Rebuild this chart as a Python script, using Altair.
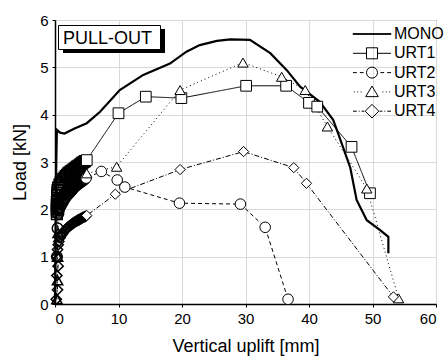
import altair as alt
import pandas as pd

# ---- data ----
mono_x = [0, 0.2, 0.3, 0.8, 1.5, 3.0, 5.0, 7.1, 10.2, 13.9, 18.1, 20.7, 22.8, 25.5, 27.6,
          30.7, 33.9, 36.5, 38.6, 41.7, 43.8, 44.6, 46.5, 47.5, 49.1, 51.2, 52.5, 52.5]
mono_y = [0, 3.0, 3.68, 3.62, 3.6, 3.7, 3.82, 4.06, 4.52, 4.84, 5.08, 5.33, 5.47, 5.56, 5.59,
          5.58, 5.3, 4.94, 4.59, 4.27, 3.89, 3.6, 2.88, 2.2, 1.77, 1.56, 1.42, 1.07]

urt1_x = [0.3, 0.3, 0.3, 0.3, 0.3, 0.3, 0.4, 0.4, 0.4, 0.4, 0.4, 0.5,
          0.7, 0.9, 1.1, 1.3, 1.5, 1.7, 1.9, 2.1, 2.3, 2.5, 2.7, 2.9, 3.1, 3.3, 3.5,
          3.7, 3.9, 4.1, 4.3, 4.5, 4.7, 5.0,
          10.0, 14.3, 19.9, 30.1, 36.4, 40.0, 41.3, 46.7, 49.6]
urt1_y = [1.9, 1.95, 2.0, 2.05, 2.1, 2.15, 2.2, 2.25, 2.3, 2.35, 2.4, 2.46,
          2.52, 2.57, 2.61, 2.64, 2.67, 2.7, 2.73, 2.76, 2.78, 2.8, 2.82, 2.84, 2.86, 2.88, 2.9,
          2.92, 2.94, 2.96, 2.98, 3.0, 3.02, 3.04,
          4.03, 4.38, 4.35, 4.61, 4.61, 4.25, 4.17, 3.32, 2.34]

urt2_x = [0.3, 0.4, 0.5, 0.6, 0.8, 1.0, 1.2, 1.4, 1.6, 1.8, 2.0, 2.2, 2.4, 2.6, 2.8, 3.0,
          3.2, 3.4, 3.6, 3.8, 4.0, 4.2, 4.4, 4.6, 4.9,
          7.3, 9.8, 11.0, 19.6, 29.2, 33.1, 36.7]
urt2_y = [1.0, 1.6, 1.9, 1.98, 2.05, 2.1, 2.15, 2.2, 2.24, 2.28, 2.31, 2.34, 2.37, 2.4, 2.43, 2.46,
          2.49, 2.51, 2.53, 2.55, 2.57, 2.59, 2.61, 2.63, 2.66,
          2.8, 2.62, 2.47, 2.13, 2.11, 1.62, 0.1]

urt3_x = [0.3, 0.4, 0.4, 0.5, 0.5, 0.6, 0.7, 0.9, 1.1, 1.3, 1.5, 1.7, 1.9, 2.1, 2.3, 2.5,
          2.7, 2.9, 3.1, 3.3, 3.5, 3.7, 3.9, 4.1, 4.3, 4.5, 4.7, 5.0,
          9.7, 19.7, 29.6, 35.7, 39.4, 42.9, 49.1, 54.1]
urt3_y = [0.1, 0.5, 1.0, 1.5, 2.0, 2.15, 2.22, 2.3, 2.35, 2.39, 2.42, 2.45, 2.48, 2.5, 2.52, 2.55,
          2.57, 2.6, 2.62, 2.64, 2.66, 2.68, 2.69, 2.7, 2.72, 2.73, 2.74, 2.76,
          2.9, 4.52, 5.1, 4.8, 4.52, 3.75, 2.44, 0.12]

urt4_x = [0.2, 0.4, 0.3, 0.5, 0.3, 0.4, 0.5, 0.6, 0.8, 1.0, 1.2, 1.4, 1.6, 1.8, 2.0, 2.2,
          2.4, 2.6, 2.8, 3.0, 3.2, 3.4, 3.6, 3.8, 4.0, 4.2, 4.4, 4.6, 4.8, 5.0,
          9.5, 19.7, 29.7, 37.6, 39.6, 53.3]
urt4_y = [0.1, 0.3, 0.6, 0.8, 1.0, 1.15, 1.25, 1.32, 1.4, 1.45, 1.49, 1.53, 1.56, 1.59, 1.62, 1.64,
          1.66, 1.68, 1.7, 1.72, 1.74, 1.75, 1.77, 1.78, 1.8, 1.81, 1.83, 1.84, 1.85, 1.87,
          2.32, 2.84, 3.22, 2.88, 2.55, 0.15]

series = ["MONO", "URT1", "URT2", "URT3", "URT4"]
x_ticks = [0, 10, 20, 30, 40, 50, 60]
y_ticks = [0, 1, 2, 3, 4, 5, 6]

# ---- build tables ----
def table(name, xs, ys):
    return pd.DataFrame({"s": name, "x": xs, "y": ys, "o": range(len(xs))})

mono = table("MONO", mono_x, mono_y)
urt = pd.concat([
    table("URT1", urt1_x, urt1_y),
    table("URT2", urt2_x, urt2_y),
    table("URT3", urt3_x, urt3_y),
    table("URT4", urt4_x, urt4_y),
])

FONT = "Liberation Sans"
xs = alt.Scale(domain=[0, 60], nice=False)
ys = alt.Scale(domain=[0, 6], nice=False)

grid_x = {"condition": {"test": "datum.value % 10 == 0", "value": "#d9d9d9"}, "value": "transparent"}
grid_y = {"condition": {"test": "datum.value % 1 == 0", "value": "#d9d9d9"}, "value": "transparent"}

x_enc = alt.X("x:Q", scale=xs, title="Vertical uplift [mm]",
              axis=alt.Axis(values=[v / 2 for v in range(0, 121, 10)],
                            labelExpr="datum.value % 10 == 0 ? datum.label : ''",
                            gridColor=grid_x, tickSize=3, labelPadding=4,
                            titlePadding=11))
y_enc = alt.Y("y:Q", scale=ys, title="Load [kN]",
              axis=alt.Axis(values=[v / 2 for v in range(0, 13)],
                            labelExpr="datum.value % 1 == 0 ? datum.label : ''",
                            gridColor=grid_y, tickSize=3, labelPadding=4,
                            titlePadding=10))

mono_line = alt.Chart(mono).mark_line(color="black", strokeWidth=2.2).encode(
    x=x_enc, y=y_enc, order="o:Q")

dash_scale = alt.Scale(domain=["URT1", "URT2", "URT3", "URT4"],
                       range=[[1, 0], [4, 3], [1, 3], [5, 2, 1, 2]])
urt_lines = alt.Chart(urt).mark_line(color="black", strokeWidth=1).encode(
    x="x:Q", y="y:Q", order="o:Q", detail="s:N",
    strokeDash=alt.StrokeDash("s:N", scale=dash_scale, legend=None))

shape_scale = alt.Scale(domain=["URT1", "URT2", "URT3", "URT4"],
                        range=["square", "circle", "triangle-up", "diamond"])
size_scale = alt.Scale(domain=["URT1", "URT2", "URT3", "URT4"], range=[115, 105, 115, 150])

# dense early readings (drawn as open outlines, so they pile up into dark fans)
urt_dense = alt.Chart(urt).transform_filter("datum.x < 4.85").mark_point(
    filled=False, stroke="black", strokeWidth=1.5, opacity=1).encode(
    x="x:Q", y="y:Q",
    shape=alt.Shape("s:N", scale=shape_scale, legend=None),
    size=alt.Size("s:N", scale=size_scale, legend=None))
urt_points = alt.Chart(urt).transform_filter("datum.x >= 4.85").mark_point(
    filled=True, fill="white", stroke="black", strokeWidth=1, opacity=1).encode(
    x="x:Q", y="y:Q",
    shape=alt.Shape("s:N", scale=shape_scale, legend=None),
    size=alt.Size("s:N", scale=size_scale, legend=None))

# legend: combined line + marker symbols
leg_paths = [
    "M-2,-0.04L2,-0.04L2,0.04L-2,0.04Z",
    "M-2,0L-0.58,0M0.58,0L2,0M-0.58,-0.58L0.58,-0.58L0.58,0.58L-0.58,0.58Z",
    "M-2,0L-1.6,0M-1.28,0L-0.88,0M0.88,0L1.28,0M1.6,0L2,0"
    "M0.58,0A0.58,0.58 0 1,1 -0.58,0A0.58,0.58 0 1,1 0.58,0Z",
    "M-1.9,0L-1.8,0M-1.55,0L-1.45,0M-1.2,0L-1.1,0M1.1,0L1.2,0M1.45,0L1.55,0M1.8,0L1.9,0"
    "M0,-0.62L0.66,0.5L-0.66,0.5Z",
    "M-2,0L-1.6,0M-1.4,0L-1.3,0M-1.1,0L-0.8,0M0.8,0L1.1,0M1.3,0L1.4,0M1.6,0L2,0"
    "M0,-0.72L0.72,0L0,0.72L-0.72,0Z",
]
leg_df = pd.DataFrame({"lg": series})
legend_layer = alt.Chart(leg_df).mark_point(opacity=0).encode(
    x=alt.value(0), y=alt.value(0),
    shape=alt.Shape("lg:N", scale=alt.Scale(domain=series, range=leg_paths),
                    legend=alt.Legend(title=None, orient="none", legendX=307, legendY=4,
                                      symbolSize=361, symbolOpacity=1,
                                      symbolFillColor="white", symbolStrokeColor="black",
                                      symbolStrokeWidth=1, labelOffset=12,
                                      labelFont=FONT, labelFontSize=16, labelColor="black",
                                      rowPadding=1.3, padding=0, labelLimit=200)))

# PULL-OUT label box
shadow = alt.Chart(leg_df.head(1)).mark_rect(color="black").encode(
    x=alt.value(8), x2=alt.value(110), y=alt.value(9), y2=alt.value(33))
box = alt.Chart(leg_df.head(1)).mark_rect(fill="white", stroke="black", strokeWidth=1).encode(
    x=alt.value(3.5), x2=alt.value(105.5), y=alt.value(5.5), y2=alt.value(29.5))
label = alt.Chart(leg_df.head(1)).mark_text(text="PULL-OUT", font=FONT, fontSize=18,
                                            align="left", baseline="middle", color="black").encode(
    x=alt.value(8), y=alt.value(18.5))

chart = alt.layer(mono_line, urt_lines, urt_dense, urt_points, legend_layer,
                  shadow, box, label).resolve_scale(
    shape="independent"
).properties(
    width=381, height=284,
    autosize=alt.AutoSizeParams(type="none"),
    padding={"left": 55, "top": 20, "right": 9, "bottom": 54},
).configure_view(stroke="black", strokeWidth=1).configure_axis(
    labelFont=FONT, labelFontSize=15, labelColor="black",
    titleFont=FONT, titleFontSize=18, titleFontWeight="normal", titleColor="black",
    domainColor="black", domainWidth=1.5, tickColor="black", gridWidth=1,
)

chart.save("out.html", embed_options={"renderer": "svg", "actions": False})
